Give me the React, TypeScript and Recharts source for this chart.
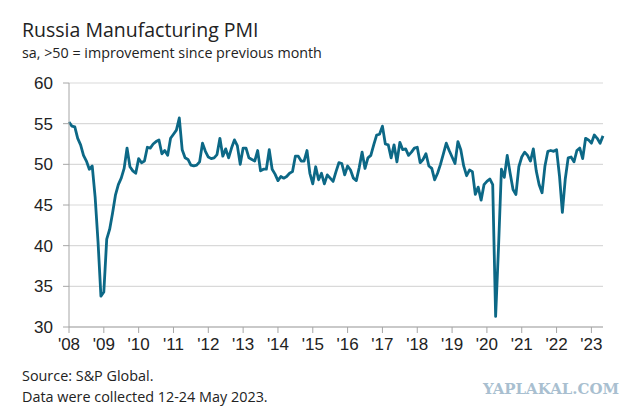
import { CartesianGrid, Line, LineChart, XAxis, YAxis } from "recharts";

// Russia Manufacturing PMI, monthly, Jan 2008 - May 2023 (sa)
const startYear = 2008;

const pmi2008 = [55.2, 54.7, 54.6, 53.2, 52.4, 51.1, 50.4, 49.4, 49.8, 46.0, 40.5, 33.8];
const pmi2009 = [34.3, 40.8, 42.0, 44.0, 46.2, 47.5, 48.3, 49.5, 52.0, 49.7, 49.2, 48.9];
const pmi2010 = [50.7, 50.2, 50.4, 52.1, 52.0, 52.5, 52.8, 53.0, 51.3, 51.7, 51.1, 53.2];
const pmi2011 = [53.7, 54.2, 55.7, 51.8, 50.8, 50.6, 49.9, 49.8, 49.9, 50.3, 52.6, 51.6];
const pmi2012 = [50.9, 50.7, 50.8, 51.2, 53.2, 51.0, 51.9, 50.8, 52.0, 53.0, 52.3, 50.0];
const pmi2013 = [52.0, 52.0, 50.8, 50.6, 50.4, 51.7, 49.2, 49.4, 49.4, 51.8, 49.4, 48.8];
const pmi2014 = [48.0, 48.5, 48.3, 48.5, 48.9, 49.1, 51.0, 51.0, 50.4, 50.4, 51.7, 48.9];
const pmi2015 = [47.6, 49.7, 48.1, 48.9, 47.6, 48.7, 48.3, 47.9, 49.1, 50.2, 50.1, 48.7];
const pmi2016 = [49.8, 49.3, 48.3, 48.0, 49.6, 51.5, 49.5, 50.8, 51.1, 52.4, 53.6, 53.7];
const pmi2017 = [54.7, 52.5, 52.4, 50.8, 52.4, 50.3, 52.7, 51.8, 51.9, 51.1, 51.5, 52.0];
const pmi2018 = [52.1, 50.2, 50.6, 51.3, 49.8, 49.5, 48.1, 48.9, 50.0, 51.3, 52.6, 51.7];
const pmi2019 = [50.9, 50.1, 52.8, 51.8, 49.8, 48.6, 49.3, 49.1, 46.3, 47.2, 45.6, 47.5];
const pmi2020 = [47.9, 48.2, 47.5, 31.3, 39.8, 49.4, 48.4, 51.1, 48.9, 46.9, 46.3, 49.7];
const pmi2021 = [50.9, 51.5, 51.1, 50.4, 51.9, 49.2, 47.5, 46.5, 49.8, 51.6, 51.7, 51.6];
const pmi2022 = [51.8, 48.6, 44.1, 48.2, 50.8, 50.9, 50.3, 51.7, 52.0, 50.7, 53.2, 53.0];
const pmi2023 = [52.6, 53.6, 53.2, 52.6, 53.5];

const yearLabels = ["'08", "'09", "'10", "'11", "'12", "'13", "'14", "'15", "'16", "'17", "'18", "'19", "'20", "'21", "'22", "'23"];
const yTicks = [30, 35, 40, 45, 50, 55, 60];

const values = [
  ...pmi2008, ...pmi2009, ...pmi2010, ...pmi2011, ...pmi2012, ...pmi2013, ...pmi2014, ...pmi2015,
  ...pmi2016, ...pmi2017, ...pmi2018, ...pmi2019, ...pmi2020, ...pmi2021, ...pmi2022, ...pmi2023,
];

const data = values.map((v, i) => ({
  t: i,
  month: `${startYear + Math.floor(i / 12)}-${String((i % 12) + 1).padStart(2, "0")}`,
  pmi: v,
}));

const xTicks = yearLabels.map((_, i) => i * 12);

const axisGrey = "#a6a6a6";
const textDark = "#222";
const labelFont = "Open Sans, sans-serif";
const tickFont = { fontSize: 17, fill: textDark, fontFamily: "Liberation Sans, Arial, sans-serif" };

export default function App() {
  return (
    <div style={{ position: "absolute", left: 0, top: 0, width: 640, height: 418, background: "#fff" }}>
      <LineChart
        width={640}
        height={418}
        data={data}
        margin={{ top: 83, right: 37, left: 9, bottom: 61 }}
      >
        <CartesianGrid horizontal vertical={false} stroke="#d9d9d9" strokeWidth={1.2} />
        <XAxis
          dataKey="t"
          type="number"
          domain={[0, values.length - 1]}
          ticks={xTicks}
          tickFormatter={(v) => yearLabels[v / 12]}
          tick={tickFont}
          tickSize={6}
          tickMargin={5}
          stroke={axisGrey}
          height={30}
          interval={0}
        />
        <YAxis
          domain={[30, 60]}
          ticks={yTicks}
          tick={tickFont}
          tickSize={6}
          tickMargin={10}
          stroke={axisGrey}
          width={60}
          interval={0}
        />
        <Line
          dataKey="pmi"
          type="linear"
          stroke="#0c6886"
          strokeWidth={2.8}
          dot={false}
          isAnimationActive={false}
          strokeLinejoin="round"
        />
      </LineChart>
      <svg
        width={640}
        height={418}
        style={{ position: "absolute", left: 0, top: 0, pointerEvents: "none" }}
      >
        <text x={22} y={37} fontSize={19.5} fill={textDark} fontFamily={labelFont}>
          Russia Manufacturing PMI
        </text>
        <text x={22} y={58} fontSize={14.3} fill={textDark} fontFamily={labelFont}>
          sa, &gt;50 = improvement since previous month
        </text>
        <text x={22} y={381} fontSize={14.4} fill={textDark} fontFamily={labelFont}>
          Source: S&amp;P Global.
        </text>
        <text x={22} y={402} fontSize={14.4} fill={textDark} fontFamily={labelFont}>
          Data were collected 12-24 May 2023.
        </text>
        <text
          x={483}
          y={394}
          fontSize={15}
          fontWeight="bold"
          fill="#a9bfd0"
          fontFamily="DejaVu Serif, serif"
          textLength={136}
          lengthAdjust="spacingAndGlyphs"
        >
          YAPLAKAL.COM
        </text>
      </svg>
    </div>
  );
}
